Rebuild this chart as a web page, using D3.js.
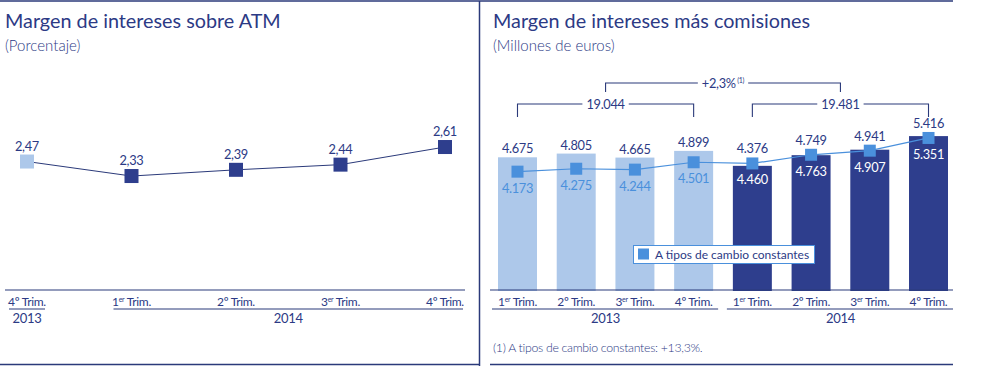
<!DOCTYPE html>
<html><head><meta charset="utf-8">
<script src="https://cdn.jsdelivr.net/npm/d3@7/dist/d3.min.js"></script>
<style>
html,body{margin:0;padding:0;background:#fff;}
svg{display:block;font-family:Lato,"Open Sans",sans-serif;}
</style></head>
<body><svg id="c" width="985" height="366"></svg>
<script>
// ---- data ----
const atmQuarters = ["4º Trim.", "1er Trim.", "2º Trim.", "3er Trim.", "4º Trim."];
const atmYears = ["2013", "2014", "2014", "2014", "2014"];
const atmValues = [2.47, 2.33, 2.39, 2.44, 2.61];

const quarters = ["1er Trim.", "2º Trim.", "3er Trim.", "4º Trim.", "1er Trim.", "2º Trim.", "3er Trim.", "4º Trim."];
const years = ["2013", "2013", "2013", "2013", "2014", "2014", "2014", "2014"];
const marginValues = [4675, 4805, 4665, 4899, 4376, 4749, 4941, 5416];
const constantFxValues = [4173, 4275, 4244, 4501, 4460, 4763, 4907, 5351];
const yearTotals = [19044, 19481];
const growthLabel = "+2,3%";
const legendLabel = "A tipos de cambio constantes";
const footnote = "(1)  A tipos de cambio constantes: +13,3%.";

// ---- style ----
const NAVY = "#2c3a85", DARK = "#2e3e8d", LIGHT = "#adc8ea", BLUE = "#4a90dc", LINE = "#2b3a7a";
const es = d3.formatLocale({decimal: ",", thousands: ".", grouping: [3], currency: ["", "€"]});
const fmtInt = es.format(",d"), fmt2 = es.format(".2f");

const svg = d3.select("#c");

// frame lines
svg.append("line").attr("x1", 0).attr("x2", 953).attr("y1", 1).attr("y2", 1).attr("stroke", LINE).attr("stroke-width", 1.5);
svg.append("line").attr("x1", 0).attr("x2", 479).attr("y1", 364.5).attr("y2", 364.5).attr("stroke", LINE).attr("stroke-width", 1.5);
svg.append("line").attr("x1", 490).attr("x2", 953).attr("y1", 364.5).attr("y2", 364.5).attr("stroke", LINE).attr("stroke-width", 1.5);
svg.append("line").attr("x1", 479.5).attr("x2", 479.5).attr("y1", 1).attr("y2", 366).attr("stroke", LINE).attr("stroke-width", 1.5);

function title(x, t, s) {
  svg.append("text").attr("x", x).attr("y", 28).attr("font-size", 19.8).attr("fill", NAVY).text(t);
  svg.append("text").attr("x", x).attr("y", 51).attr("font-size", 15).attr("font-weight", 300).attr("fill", NAVY).text(s);
}
title(5, "Margen de intereses sobre ATM", "(Porcentaje)");
title(493, "Margen de intereses más comisiones", "(Millones de euros)");

// quarter label with superscript
function quarterLabel(sel, q) {
  const m = q.match(/^(\d)(º|er)\s(.*)$/);
  if (m[2] === "er") {
    sel.append("tspan").text(m[1]);
    sel.append("tspan").attr("font-size", 7).attr("dy", -4).text("er");
    sel.append("tspan").attr("dy", 4).text(" " + m[3]);
  } else {
    sel.text(q);
  }
}

// ---- left chart ----
const xL = d3.scalePoint().domain(d3.range(atmValues.length)).range([27, 445]);
const yL = d3.scaleLinear().domain([2.2, 2.7]).range([189.5, 137.7]);

svg.append("line").attr("x1", 5).attr("x2", 465).attr("y1", 290).attr("y2", 290).attr("stroke", LINE).attr("stroke-width", 1.2);
svg.append("path").datum(atmValues)
  .attr("d", d3.line().x((d, i) => xL(i)).y(d => yL(d)))
  .attr("fill", "none").attr("stroke", LINE).attr("stroke-width", 1);
svg.selectAll(".mL").data(atmValues).join("rect")
  .attr("x", (d, i) => xL(i) - 7).attr("y", d => yL(d) - 7).attr("width", 14).attr("height", 14)
  .attr("fill", (d, i) => atmYears[i] === "2013" ? LIGHT : DARK);
svg.selectAll(".vL").data(atmValues).join("text")
  .attr("x", (d, i) => xL(i)).attr("y", d => yL(d) - 11).attr("text-anchor", "middle")
  .attr("font-size", 12.8).attr("fill", NAVY).attr("letter-spacing", -0.3).text(d => fmt2(d));
atmQuarters.forEach((q, i) => {
  const t = svg.append("text").attr("x", xL(i)).attr("y", 305.5).attr("text-anchor", "middle")
    .attr("font-size", 12).attr("fill", NAVY).attr("letter-spacing", -0.3);
  quarterLabel(t, q);
});
// year groups (left)
function yearGroups(xpos, yrs, half, lineY, textY, left, right) {
  const groups = d3.groups(yrs.map((y, i) => ({y, i})), d => d.y);
  groups.forEach(([yr, arr]) => {
    const a = xpos(arr[0].i) - half, b = xpos(arr[arr.length - 1].i) + half;
    svg.append("line").attr("x1", Math.max(a, left)).attr("x2", Math.min(b, right)).attr("y1", lineY).attr("y2", lineY)
      .attr("stroke", LINE).attr("stroke-width", 1.2);
    svg.append("text").attr("x", (xpos(arr[0].i) + xpos(arr[arr.length - 1].i)) / 2).attr("y", textY)
      .attr("text-anchor", "middle").attr("font-size", 13).attr("fill", NAVY).attr("letter-spacing", -0.3).text(yr);
  });
}
yearGroups(xL, atmYears, 18, 309, 323, 9, 463);

// ---- right chart ----
const xR = d3.scaleBand().domain(d3.range(marginValues.length)).range([498, 948]).paddingInner(0.336).paddingOuter(0);
const yR = d3.scaleLinear().domain([0, 6000]).range([291, 291 - 6000 * 0.0286]);
const cx = i => xR(i) + xR.bandwidth() / 2;

svg.selectAll(".bar").data(marginValues).join("rect")
  .attr("x", (d, i) => xR(i)).attr("width", xR.bandwidth())
  .attr("y", d => yR(d)).attr("height", d => yR(0) - yR(d))
  .attr("fill", (d, i) => years[i] === "2013" ? LIGHT : DARK);
svg.append("line").attr("x1", 490).attr("x2", 953).attr("y1", 290).attr("y2", 290).attr("stroke", LINE).attr("stroke-width", 1.2);

svg.append("path").datum(constantFxValues)
  .attr("d", d3.line().x((d, i) => cx(i)).y(d => yR(d)))
  .attr("fill", "none").attr("stroke", BLUE).attr("stroke-width", 1.2);
svg.selectAll(".mR").data(constantFxValues).join("rect")
  .attr("x", (d, i) => cx(i) - 6).attr("y", d => yR(d) - 6).attr("width", 12).attr("height", 12).attr("fill", BLUE);

// bar value labels
svg.selectAll(".vR").data(marginValues).join("text")
  .attr("x", (d, i) => cx(i))
  .attr("y", (d, i) => Math.min(yR(d), yR(constantFxValues[i]) - 6) - 4)
  .attr("text-anchor", "middle").attr("font-size", 12.8).attr("fill", NAVY).attr("letter-spacing", -0.3)
  .text(d => fmtInt(d));
// constant FX labels
svg.selectAll(".vF").data(constantFxValues).join("text")
  .attr("x", (d, i) => cx(i)).attr("y", d => yR(d) + 21)
  .attr("text-anchor", "middle").attr("font-size", 12.8).attr("letter-spacing", -0.3)
  .attr("fill", (d, i) => years[i] === "2013" ? BLUE : "#fff")
  .text(d => fmtInt(d));

quarters.forEach((q, i) => {
  const t = svg.append("text").attr("x", cx(i)).attr("y", 305.5).attr("text-anchor", "middle")
    .attr("font-size", 12).attr("fill", NAVY).attr("letter-spacing", -0.3);
  quarterLabel(t, q);
});
// year underline groups right
const yrGroups = d3.groups(years.map((y, i) => ({y, i})), d => d.y);
yrGroups.forEach(([yr, arr], k) => {
  const a = xR(arr[0].i) - 6, b = xR(arr[arr.length - 1].i) + xR.bandwidth() + 5;
  svg.append("line").attr("x1", Math.max(a, 492)).attr("x2", Math.min(b, 953)).attr("y1", 309).attr("y2", 309)
    .attr("stroke", LINE).attr("stroke-width", 1.2);
  svg.append("text").attr("x", (cx(arr[0].i) + cx(arr[arr.length - 1].i)) / 2).attr("y", 323)
    .attr("text-anchor", "middle").attr("font-size", 13).attr("fill", NAVY).attr("letter-spacing", -0.3).text(yr);
});

// brackets
function bracket(x1, x2, yLine, yEnd, label, sup) {
  const mid = (x1 + x2) / 2;
  const t = svg.append("text").attr("x", mid).attr("y", yLine + 4.5).attr("text-anchor", "middle")
    .attr("font-size", 12.8).attr("fill", NAVY).attr("letter-spacing", -0.3);
  t.append("tspan").text(label);
  if (sup) t.append("tspan").attr("font-size", 7).attr("dy", -5).text(" " + sup);
  const w = t.node().getComputedTextLength();
  svg.append("path").attr("fill", "none").attr("stroke", LINE).attr("stroke-width", 1.1)
    .attr("d", `M${x1},${yEnd}V${yLine}H${mid - w / 2 - 4}M${mid + w / 2 + 4},${yLine}H${x2}V${yEnd}`);
}
const yearMids = [];
yrGroups.forEach(([yr, arr], k) => {
  const a = cx(arr[0].i), b = cx(arr[arr.length - 1].i);
  yearMids.push((a + b) / 2);
  bracket(a, b, 104, 117, fmtInt(yearTotals[k]));
});
bracket(yearMids[0], yearMids[1], 83, 92, growthLabel, "(1)");

// legend
svg.append("rect").attr("x", 633.5).attr("y", 245.5).attr("width", 181).attr("height", 18)
  .attr("fill", "#fff").attr("stroke", BLUE).attr("stroke-width", 1);
svg.append("rect").attr("x", 638).attr("y", 248.5).attr("width", 11).attr("height", 11).attr("fill", BLUE);
svg.append("text").attr("x", 655).attr("y", 258.5).attr("font-size", 12).attr("fill", NAVY).text(legendLabel);

// footnote
svg.append("text").attr("x", 493).attr("y", 352).attr("font-size", 12.3).attr("font-weight", 300)
  .attr("fill", NAVY).attr("letter-spacing", -0.3).text(footnote);
</script></body></html>
